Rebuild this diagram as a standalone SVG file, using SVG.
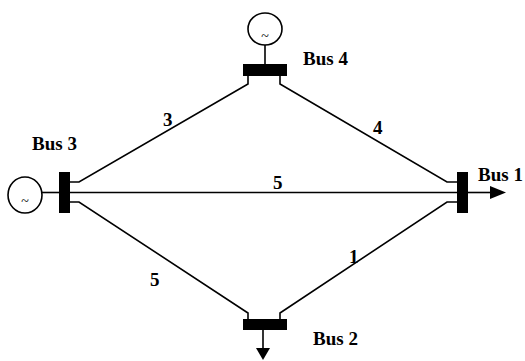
<svg xmlns="http://www.w3.org/2000/svg" width="525" height="361" viewBox="0 0 525 361">
<style>
.ln{fill:none;stroke:#000;stroke-width:1.6}
.bar{fill:#000}
.gen{fill:#fff;stroke:#000;stroke-width:1.6}
.lbl{font-family:"Liberation Serif",serif;font-weight:bold;font-size:19px;fill:#000}
.num{font-family:"Liberation Serif",serif;font-weight:bold;font-size:19px;fill:#000}
.tl{font-family:"Liberation Serif",serif;font-size:14px;fill:#000}
</style>
<rect width="525" height="361" fill="#fff"/>
<g id="connectors">
<polyline class="ln" points="248,76 248,84 79,182 70,182"/>
<polyline class="ln" points="280,76 280,84 447,182 457,182"/>
<line class="ln" x1="70" y1="192.5" x2="457" y2="192.5"/>
<polyline class="ln" points="70,202 79,202 248,313 248,319"/>
<polyline class="ln" points="457,202 447,202 280,313 280,319"/>
<text class="num" x="163" y="126">3</text>
<text class="num" x="373" y="134">4</text>
<text class="num" x="273" y="189">5</text>
<text class="num" x="150" y="286">5</text>
<text class="num" x="349" y="263">1</text>
</g>
<g id="bus3">
<line class="ln" x1="42" y1="192.5" x2="59" y2="192.5"/>
<ellipse class="gen" cx="25" cy="195" rx="17" ry="18"/>
<text class="tl" x="25" y="206" text-anchor="middle">~</text>
<rect class="bar" x="59" y="172" width="11" height="41"/>
<text class="lbl" x="32" y="150">Bus 3</text>
</g>
<g id="bus4">
<line class="ln" x1="265" y1="45" x2="265" y2="64"/>
<ellipse class="gen" cx="265" cy="29" rx="17" ry="16"/>
<text class="tl" x="265" y="41" text-anchor="middle">~</text>
<rect class="bar" x="243" y="64" width="44" height="12"/>
<text class="lbl" x="303" y="65">Bus 4</text>
</g>
<g id="bus1">
<rect class="bar" x="457" y="172" width="11" height="41"/>
<line class="ln" x1="468" y1="192.5" x2="491" y2="192.5"/>
<polygon points="490,186 506,192.5 490,199" fill="#000"/>
<text class="lbl" x="478" y="181">Bus 1</text>
</g>
<g id="bus2">
<rect class="bar" x="243" y="319" width="44" height="11"/>
<line class="ln" x1="263" y1="330" x2="263" y2="349"/>
<polygon points="256,348 270,348 263,360" fill="#000"/>
<text class="lbl" x="313" y="345">Bus 2</text>
</g>
</svg>
